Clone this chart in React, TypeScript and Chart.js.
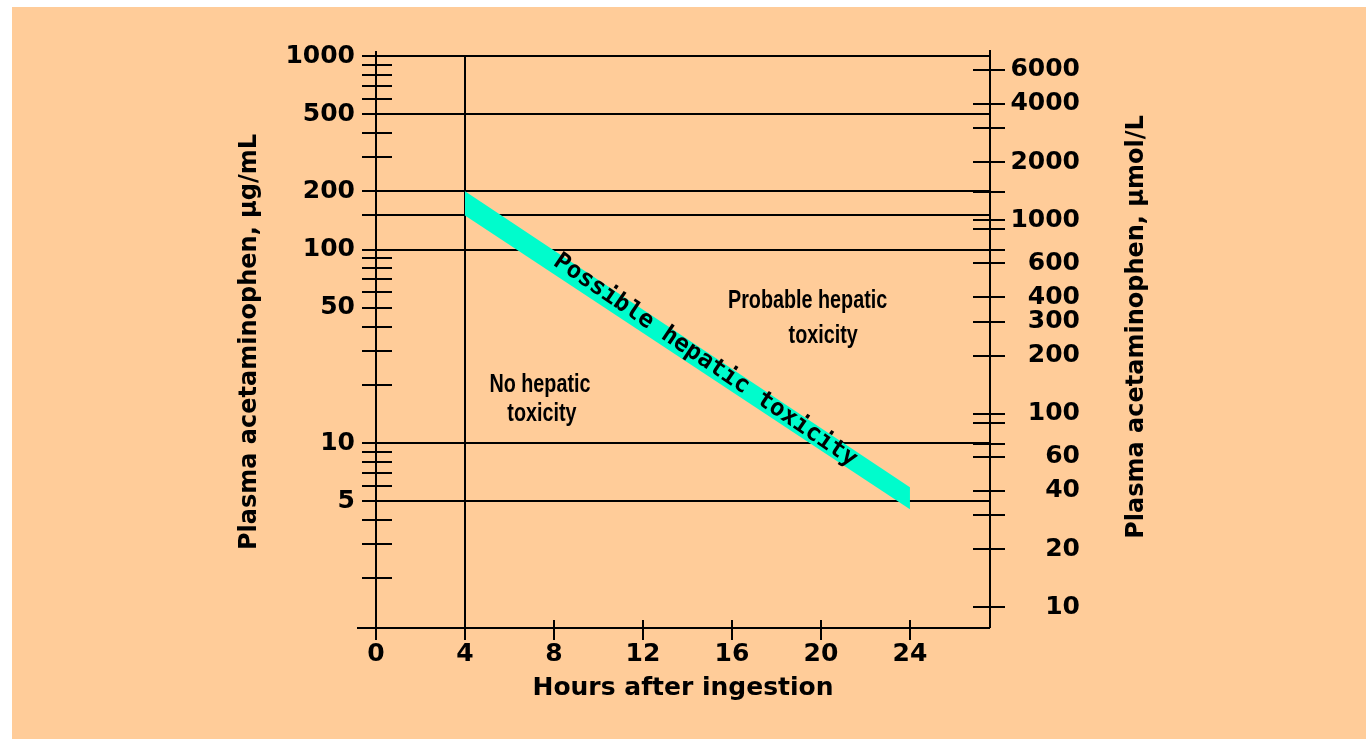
import React, { useEffect, useRef } from 'react';
import { Chart, registerables } from 'chart.js';

Chart.register(...registerables);

// ---- data ----
const HOURS_TICKS = [0, 4, 8, 12, 16, 20, 24];
const UG_TICKS = [1000, 900, 800, 700, 600, 500, 400, 300, 200, 150, 100, 90, 80, 70, 60, 50, 40, 30, 20, 10, 9, 8, 7, 6, 5, 4, 3, 2];
const UG_LABELS = [1000, 500, 200, 100, 50, 10, 5];
const UG_GRID = [1000, 500, 200, 150, 100, 10, 5];
const UMOL_TICKS = [6000, 4000, 3000, 2000, 1400, 1000, 900, 700, 600, 400, 300, 200, 100, 90, 70, 60, 40, 30, 20, 10];
const UMOL_LABELS = [6000, 4000, 2000, 1000, 600, 400, 300, 200, 100, 60, 40, 20, 10];
const HOUR_GRID = [4];
const BAND_HOURS = [4, 24];
const BAND_UPPER = [200, 5.9];
const BAND_LOWER = [150, 4.55];
const X_MIN = 0;
const X_MAX = 27.6;
const Y_MIN = 1.107;
const Y_MAX = 1000;
const UMOL_PER_UG = 7.07;

const BAND_LABEL = 'Possible hepatic toxicity';
const BAND_LABEL_HOUR = 14.8;
const ZONE_TEXTS = ['Probable hepatic', 'toxicity', 'No hepatic', 'toxicity'];
const ZONE_HOURS = [19.4, 20.1, 7.37, 7.46];
const ZONE_VALUES = [54, 36, 20, 14.1];

const LEFT_TITLE = 'Plasma acetaminophen, µg/mL';
const RIGHT_TITLE = 'Plasma acetaminophen, µmol/L';
const X_TITLE = 'Hours after ingestion';

const BG = '#FFCC99';
const BAND_COLOR = '#00FCCC';
const INK = '#000000';
const FONT = '"DejaVu Sans", sans-serif';

const W = 1354;
const H = 732;

const overlayPlugin = {
  id: 'nomogramOverlay',
  afterDraw(chart: any) {
    const ctx = chart.ctx as CanvasRenderingContext2D;
    const { left, right, top, bottom } = chart.chartArea;
    const xs = chart.scales.x;
    const ys = chart.scales.y;
    const y2 = chart.scales.y2;
    const line = (x1: number, y1: number, x2: number, y2p: number) => {
      ctx.beginPath();
      ctx.moveTo(x1, y1);
      ctx.lineTo(x2, y2p);
      ctx.stroke();
    };
    ctx.save();
    ctx.strokeStyle = INK;
    ctx.lineWidth = 2;
    ctx.lineCap = 'butt';
    // axis lines
    line(left, top - 5, left, bottom + 12);
    line(right, top - 6, right, bottom);
    line(left - 19, bottom, right, bottom);
    // tick marks crossing the axes
    UG_TICKS.forEach((v) => {
      const y = Math.round(ys.getPixelForValue(v));
      line(left - 14, y, left + 16, y);
    });
    UMOL_TICKS.forEach((v) => {
      const y = Math.round(y2.getPixelForValue(v));
      line(right - 17, y, right + 15, y);
    });
    HOURS_TICKS.forEach((h) => {
      const x = Math.round(xs.getPixelForValue(h));
      if (h === 0 || HOUR_GRID.includes(h)) line(x, bottom, x, bottom + 12);
      else line(x, bottom - 8, x, bottom + 12);
    });

    // right axis title (reads bottom to top)
    ctx.fillStyle = INK;
    ctx.save();
    ctx.translate(right + 147, (top + bottom) / 2 - 15);
    ctx.rotate(-Math.PI / 2);
    ctx.font = `bold 24px ${FONT}`;
    ctx.textAlign = 'center';
    ctx.textBaseline = 'middle';
    ctx.fillText(RIGHT_TITLE, 0, 0);
    ctx.restore();

    // band label along the band
    const xa = xs.getPixelForValue(BAND_HOURS[0]);
    const xb = xs.getPixelForValue(BAND_HOURS[1]);
    const yaU = ys.getPixelForValue(BAND_UPPER[0]);
    const ybU = ys.getPixelForValue(BAND_UPPER[1]);
    const yaL = ys.getPixelForValue(BAND_LOWER[0]);
    const ybL = ys.getPixelForValue(BAND_LOWER[1]);
    const t = (BAND_LABEL_HOUR - BAND_HOURS[0]) / (BAND_HOURS[1] - BAND_HOURS[0]);
    const cx = xa + (xb - xa) * t;
    const cy = (yaU + (ybU - yaU) * t + yaL + (ybL - yaL) * t) / 2;
    const ang = Math.atan2((ybU + ybL - yaU - yaL) / 2, xb - xa) + 0.01;
    ctx.save();
    ctx.translate(cx, cy - 2);
    ctx.rotate(ang);
    ctx.font = `bold 24px "DejaVu Sans Mono", monospace`;
    ctx.textAlign = 'center';
    ctx.textBaseline = 'middle';
    ctx.fillText(BAND_LABEL, 0, 0);
    ctx.restore();

    // zone labels (condensed bold)
    ZONE_TEXTS.forEach((txt, i) => {
      const px = xs.getPixelForValue(ZONE_HOURS[i]);
      const py = ys.getPixelForValue(ZONE_VALUES[i]);
      ctx.save();
      ctx.translate(px, py);
      ctx.scale(0.76, 1);
      ctx.font = `bold 26px "Liberation Sans", Arial, sans-serif`;
      ctx.textAlign = 'center';
      ctx.textBaseline = 'middle';
      ctx.fillText(txt, 0, 0);
      ctx.restore();
    });
    ctx.restore();
  },
};

export default function App() {
  const canvasRef = useRef<HTMLCanvasElement | null>(null);

  useEffect(() => {
    if (!canvasRef.current) return;
    const asc = (arr: number[]) => [...arr].sort((a, b) => a - b);
    const tickFont = { family: FONT, size: 25, weight: 'bold' as const };
    const chart = new Chart(canvasRef.current, {
      type: 'line',
      data: {
        datasets: [
          {
            label: 'Upper line',
            data: BAND_HOURS.map((h, i) => ({ x: h, y: BAND_UPPER[i] })),
            borderColor: 'rgba(0,0,0,0)',
            borderWidth: 0,
            pointRadius: 0,
            tension: 0,
            fill: false,
          },
          {
            label: 'Lower line',
            data: BAND_HOURS.map((h, i) => ({ x: h, y: BAND_LOWER[i] })),
            borderColor: 'rgba(0,0,0,0)',
            backgroundColor: BAND_COLOR,
            borderWidth: 0,
            pointRadius: 0,
            tension: 0,
            fill: '-1',
          },
        ],
      },
      options: {
        animation: false,
        responsive: false,
        devicePixelRatio: 1,
        layout: { padding: { left: 0, right: 286, top: 49, bottom: 0 } },
        plugins: { legend: { display: false }, tooltip: { enabled: false } },
        scales: {
          x: {
            type: 'linear',
            min: X_MIN,
            max: X_MAX,
            z: 1,
            afterBuildTicks: (s: any) => {
              s.ticks = HOURS_TICKS.map((v) => ({ value: v }));
            },
            afterFit: (s: any) => {
              s.height = 111;
            },
            grid: {
              drawTicks: false,
              lineWidth: 2,
              color: (c: any) => (HOUR_GRID.includes(c.tick?.value) ? INK : 'rgba(0,0,0,0)'),
            },
            border: { display: false },
            ticks: {
              autoSkip: false,
              maxRotation: 0,
              padding: 11,
              color: INK,
              font: tickFont,
              callback: (v: any) => String(v),
            },
            title: {
              display: true,
              text: X_TITLE,
              color: INK,
              font: { family: FONT, size: 25, weight: 'bold' },
              padding: { top: 0, bottom: 36 },
            },
          },
          y: {
            type: 'logarithmic',
            position: 'left',
            min: Y_MIN,
            max: Y_MAX,
            z: 1,
            afterBuildTicks: (s: any) => {
              s.ticks = asc(UG_TICKS).map((v) => ({ value: v }));
            },
            afterFit: (s: any) => {
              s.width = 364;
            },
            grid: {
              drawTicks: false,
              lineWidth: 2,
              color: (c: any) => (UG_GRID.includes(c.tick?.value) ? INK : 'rgba(0,0,0,0)'),
            },
            border: { display: false },
            ticks: {
              autoSkip: false,
              padding: 21,
              color: INK,
              font: tickFont,
              callback: (v: any) => (UG_LABELS.includes(Number(v)) ? String(v) : ''),
            },
            title: {
              display: true,
              text: LEFT_TITLE,
              color: INK,
              font: { family: FONT, size: 24, weight: 'bold' },
              padding: { top: 223, bottom: 0 },
            },
          },
          y2: {
            type: 'logarithmic',
            position: 'right',
            min: Y_MIN * UMOL_PER_UG,
            max: Y_MAX * UMOL_PER_UG,
            afterBuildTicks: (s: any) => {
              s.ticks = asc(UMOL_TICKS).map((v) => ({ value: v }));
            },
            afterFit: (s: any) => {
              s.width = 90;
            },
            grid: { display: false, drawTicks: false },
            border: { display: false },
            ticks: {
              autoSkip: false,
              padding: 20,
              crossAlign: 'far',
              color: INK,
              font: tickFont,
              callback: (v: any) => (UMOL_LABELS.includes(Number(v)) ? String(v) : ''),
            },
          },
        },
      },
      plugins: [overlayPlugin],
    } as any);
    return () => chart.destroy();
  }, []);

  return (
    <div
      style={{
        position: 'fixed',
        left: 12,
        top: 7,
        width: W,
        height: H,
        background: BG,
      }}
    >
      <canvas ref={canvasRef} width={W} height={H} style={{ display: 'block' }} />
    </div>
  );
}
